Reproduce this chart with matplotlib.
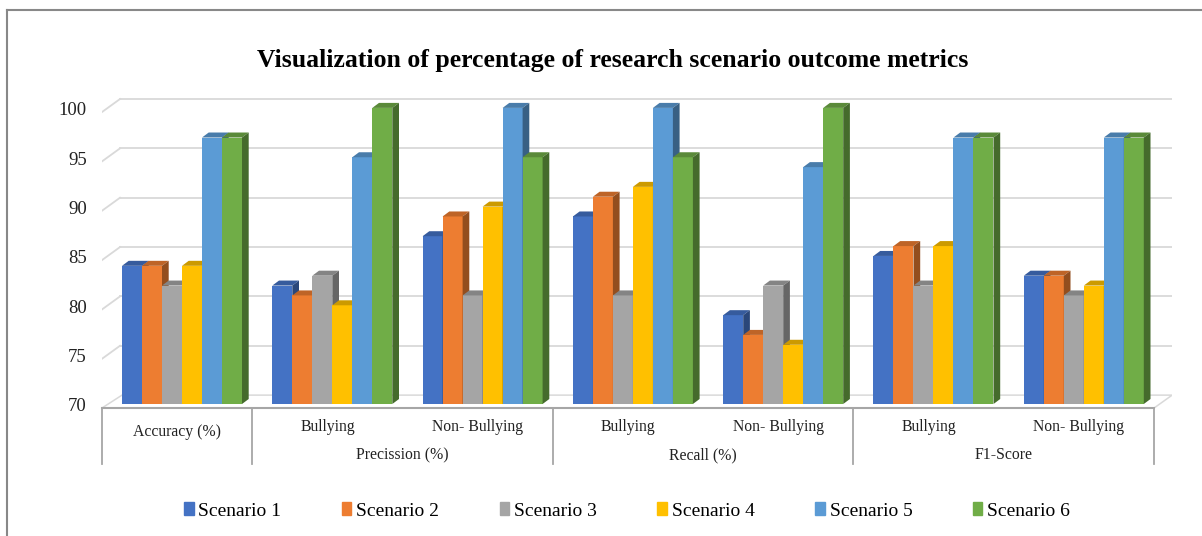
import matplotlib
matplotlib.use("Agg")
import matplotlib.pyplot as plt
from matplotlib.lines import Line2D
from matplotlib.patches import Patch
import numpy as np

# ---- data ----
sub_labels = ["Accuracy (%)", "Bullying", "Non- Bullying", "Bullying", "Non- Bullying",
              "Bullying", "Non- Bullying"]
main_labels = ["Precission (%)", "Recall (%)", "F1-Score"]
scenarios = ["Scenario 1", "Scenario 2", "Scenario 3", "Scenario 4", "Scenario 5", "Scenario 6"]
scenario_1 = [84, 82, 87, 89, 79, 85, 83]
scenario_2 = [84, 81, 89, 91, 77, 86, 83]
scenario_3 = [82, 83, 81, 81, 82, 82, 81]
scenario_4 = [84, 80, 90, 92, 76, 86, 82]
scenario_5 = [97, 95, 100, 100, 94, 97, 97]
scenario_6 = [97, 100, 95, 95, 100, 97, 97]
series = [scenario_1, scenario_2, scenario_3, scenario_4, scenario_5, scenario_6]
y_ticks = [70, 75, 80, 85, 90, 95, 100]

colors = ["#4472C4", "#ED7D31", "#A5A5A5", "#FFC000", "#5B9BD5", "#70AD47"]


def shade(c, f):
    c = matplotlib.colors.to_rgb(c)
    return tuple(v * f for v in c)


W, H = 1202, 536
fig = plt.figure(figsize=(W / 100, H / 100), dpi=100)

# axes in pixel terms: x from 102 to 1172, y from 408 (bottom) to 90 (top)
ax = fig.add_axes([102 / W, 1 - 408 / H, (1172 - 102) / W, (408 - 90) / H])
px_x = 150.3          # pixels per group
px_y = 9.87           # pixels per unit
ax.set_xlim(-0.5, -0.5 + (1172 - 102) / px_x)
ax.set_ylim(70 - 4 / px_y, 70 + (404 - 90) / px_y)
ax.axis("off")

bw = 20 / px_x        # bar width
dx = 6.7 / px_x       # depth offset x
dy = 5 / px_y         # depth offset y
back = 0.9            # back wall shift (units)
diag_x = 18 / px_x
grid_c = "#D9D9D9"

# floor
f_front = 70 - 4 / px_y
ax.fill([-0.5, 6.5, 6.62, -0.5 + 20 / px_x], [f_front, f_front, 70 + back, 70 + back],
        color="white", ec=grid_c, lw=1.1, zorder=1)

# gridlines with left diagonals
for v in y_ticks[1:]:
    ax.plot([-0.5 + diag_x, 6.62], [v + back, v + back], color=grid_c, lw=1.3, zorder=0)
    ax.plot([-0.5, -0.5 + diag_x], [v - 0.42, v + back], color=grid_c, lw=1.3, zorder=0)
for v in y_ticks:
    ax.text(-0.6, v - 0.3, str(v), ha="right", va="center", fontsize=13.5,
            family="Liberation Serif", color="#222222")

# bars (front face + top + side)
idx = np.arange(len(sub_labels))
start = -0.5 + 20 / px_x
for k, (vals, c) in enumerate(zip(series, colors)):
    x0 = idx + start + k * bw
    ax.bar(x0, np.array(vals) - 70, width=bw, bottom=70, align="edge",
           color=c, lw=0, zorder=3 + k * 0.01)
for g in idx:
    for k, (vals, c) in enumerate(zip(series, colors)):
        x0 = g + start + k * bw
        x1 = x0 + bw
        h = vals[g]
        z = 3 + k * 0.01 + 0.005
        ax.fill([x0, x1, x1 + dx, x0 + dx], [h, h, h + dy, h + dy],
                color=shade(c, 0.8), lw=0, zorder=z)
        ax.fill([x1, x1 + dx, x1 + dx, x1], [70, 70 + dy, h + dy, h],
                color=shade(c, 0.62), lw=0, zorder=z)

# category axis
axis_c = "#A6A6A6"
ax.plot([-0.5, 6.5], [f_front, f_front], color=axis_c, lw=1.5, clip_on=False, zorder=5)
low = 70 - (464 - 404) / px_y
for xs in [-0.5, 0.5, 2.5, 4.5, 6.5]:
    ax.plot([xs, xs], [f_front, low], color=axis_c, lw=1.3, clip_on=False)
lab_kw = dict(ha="center", va="center", fontsize=11.3, family="Liberation Serif", color="#222222")
ax.text(0, 70 - (432 - 404) / px_y, sub_labels[0], **lab_kw)
for g in range(1, 7):
    ax.text(g, 70 - (427 - 404) / px_y, sub_labels[g], **lab_kw)
for j, lab in enumerate(main_labels):
    ax.text(1.5 + 2 * j, 70 - (455 - 404) / px_y, lab, **lab_kw)

# title
fig.text(613 / W, 1 - 60 / H, "Visualization of percentage of research scenario outcome metrics",
         ha="center", va="center", fontsize=18.5, fontweight="bold", family="Liberation Serif")

# legend
handles = [Patch(color=c, label=s) for c, s in zip(colors, scenarios)]
fig.legend(handles=handles, loc="center", bbox_to_anchor=(627 / W, 1 - 511 / H), ncol=6,
           frameon=False, handlelength=0.5, handleheight=0.65, handletextpad=0.25,
           columnspacing=3.1, prop={"family": "Liberation Serif", "size": 14})

# outer chart border
fig.add_artist(Line2D([7 / W, 1], [1 - 10 / H, 1 - 10 / H], color="#888888", lw=1.5))
fig.add_artist(Line2D([7 / W, 7 / W], [0, 1 - 10 / H], color="#888888", lw=1.5))

fig.savefig("out.png", dpi=100)
